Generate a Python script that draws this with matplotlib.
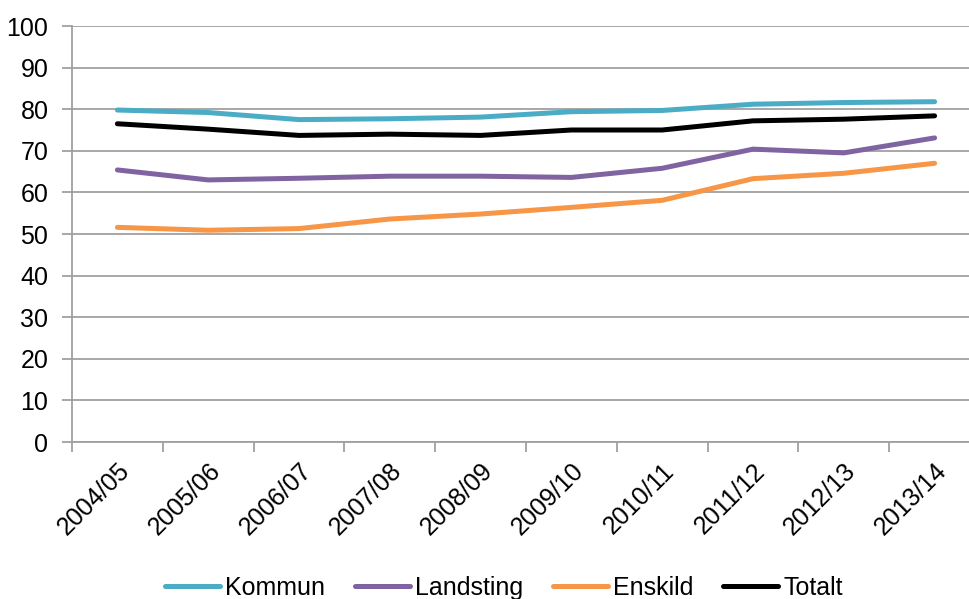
import matplotlib
matplotlib.use("Agg")
import matplotlib.pyplot as plt
from matplotlib.ticker import FixedLocator, NullFormatter

categories = ["2004/05", "2005/06", "2006/07", "2007/08", "2008/09",
              "2009/10", "2010/11", "2011/12", "2012/13", "2013/14"]
kommun = [79.8, 79.2, 77.5, 77.7, 78.1, 79.4, 79.7, 81.2, 81.6, 81.8]
landsting = [65.4, 63.0, 63.4, 63.9, 63.9, 63.6, 65.8, 70.4, 69.5, 73.1]
enskild = [51.6, 50.9, 51.3, 53.6, 54.8, 56.4, 58.1, 63.3, 64.6, 67.0]
totalt = [76.5, 75.2, 73.7, 74.0, 73.7, 75.0, 75.0, 77.2, 77.6, 78.4]
yticks = list(range(0, 101, 10))

plt.rcParams['font.family'] = ['Liberation Sans', 'DejaVu Sans']

fig = plt.figure(figsize=(9.69, 5.99), dpi=100)
ax = fig.add_axes([72/969, 1-442/599, (980-72)/969, (442-26)/599])

x = list(range(len(categories)))
series = [("Kommun", kommun, "#4BACC6"), ("Landsting", landsting, "#8064A2"),
          ("Enskild", enskild, "#F79646"), ("Totalt", totalt, "#000000")]
for name, vals, col in series:
    ax.plot(x, vals, color=col, lw=3.6, label=name, solid_capstyle='round',
            solid_joinstyle='round', zorder=3)

ax.set_xlim(-0.5, len(categories) - 0.5)
ax.set_ylim(0, 100)
ax.set_yticks(yticks)
ax.set_yticklabels([str(v) for v in yticks], fontsize=18)
ax.yaxis.grid(True, color="#A0A0A0", lw=1.3)
ax.set_axisbelow(True)

ax.set_xticks(x)
ax.set_xticklabels(categories, rotation=45, ha='right', rotation_mode='anchor', fontsize=18)
ax.tick_params(axis='x', which='major', length=0, pad=12)
ax.xaxis.set_minor_locator(FixedLocator([i - 0.5 for i in range(len(categories) + 1)]))
ax.xaxis.set_minor_formatter(NullFormatter())
ax.tick_params(axis='x', which='minor', length=7, color="#A0A0A0", width=1.3)
ax.tick_params(axis='y', length=7, color="#A0A0A0", width=1.3, pad=10)

for s in ["top", "right"]:
    ax.spines[s].set_visible(False)
for s in ["left", "bottom"]:
    ax.spines[s].set_color("#A0A0A0")
    ax.spines[s].set_linewidth(1.3)

fig.legend(loc='center', bbox_to_anchor=(0.52, 1-588/599), ncol=4, frameon=False,
           fontsize=18, handlelength=2.2, columnspacing=1.2, handletextpad=0.2)

fig.savefig("out.png", dpi=100)
